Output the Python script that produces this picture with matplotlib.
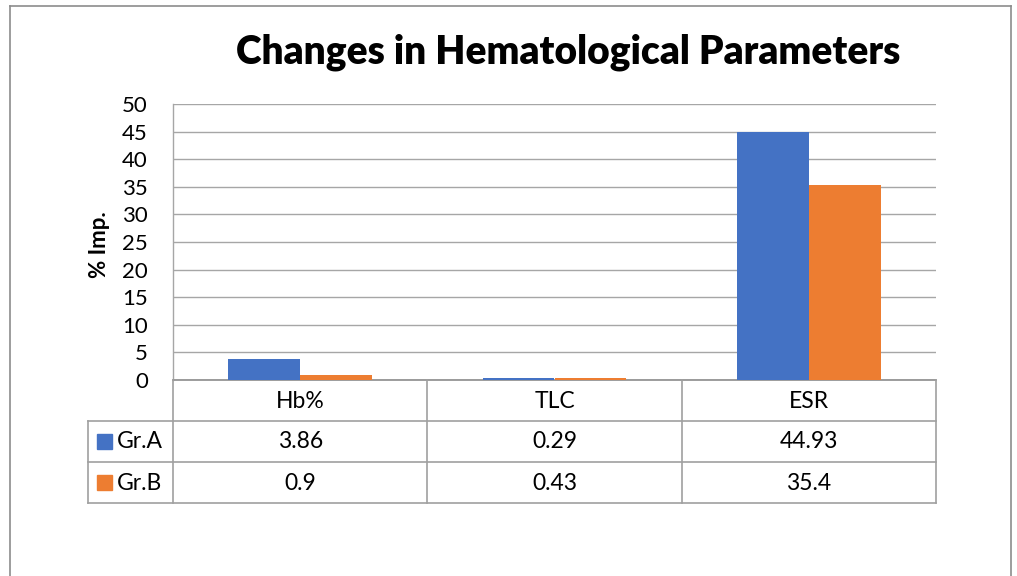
import matplotlib
matplotlib.use("Agg")
import matplotlib.pyplot as plt
from matplotlib.lines import Line2D
from matplotlib.patches import Rectangle

categories = ["Hb%", "TLC", "ESR"]
series_names = ["Gr.A", "Gr.B"]
gr_a = [3.86, 0.29, 44.93]
gr_b = [0.9, 0.43, 35.4]
labels_a = ["3.86", "0.29", "44.93"]
labels_b = ["0.9", "0.43", "35.4"]
yticks = [0, 5, 10, 15, 20, 25, 30, 35, 40, 45, 50]

colors = ["#4472C4", "#ED7D31"]
FONT = ["Lato", "DejaVu Sans"]
plt.rcParams["font.family"] = FONT

W, H = 1017, 576
fig = plt.figure(figsize=(W / 100, H / 100), dpi=100)

def fx(x):
    return x / W

def fy(y):
    return 1 - y / H

# outer chart frame
frame_col = "#8c8c8c"
for (x0, y0, x1, y1) in [(10, 6, 1011, 6), (10, 6, 10, 576), (1011, 6, 1011, 576)]:
    fig.add_artist(Line2D([fx(x0), fx(x1)], [fy(y0), fy(y1)], color=frame_col, lw=1.2))

L, R, T, B = 173, 936, 104, 380
ax = fig.add_axes([fx(L), fy(B), fx(R - L), (B - T) / H])

n = len(categories)
xs = list(range(n))
w = 72 / 255
ax.bar([x - w / 2 for x in xs], gr_a, width=w, color=colors[0], zorder=3)
ax.bar([x + w / 2 for x in xs], gr_b, width=w, color=colors[1], zorder=3)

ax.set_xlim(-0.5, n - 0.5)
ax.set_ylim(0, 50)
ax.set_yticks(yticks)
ax.set_yticklabels([str(t) for t in yticks], fontsize=16)
ax.tick_params(axis="y", length=0, pad=18)
ax.set_xticks([])
ax.grid(axis="y", color="#a6a6a6", lw=1.0, zorder=0)
for s in ["top", "right"]:
    ax.spines[s].set_visible(False)
ax.spines["left"].set_color("#a6a6a6")
ax.spines["bottom"].set_color("#8c8c8c")
ax.spines["bottom"].set_linewidth(1.2)
ax.spines["left"].set_linewidth(1.0)

fig.text(fx(100), fy(245), "% Imp.", rotation=90, ha="center", va="center",
         fontsize=16, fontweight="bold")
fig.text(fx(568), fy(52), "Changes in Hematological Parameters", ha="center",
         va="center", fontsize=28, fontweight="heavy")

# data table
tcol = "#a0a0a0"
rows_y = [380, 421, 462, 503]
col_x = [L + (R - L) * i / n for i in range(n + 1)]
for y in rows_y[1:]:
    fig.add_artist(Line2D([fx(88), fx(R)], [fy(y), fy(y)], color=tcol, lw=1.2))
fig.add_artist(Line2D([fx(88), fx(88)], [fy(421), fy(503)], color=tcol, lw=1.2))
for x in col_x:
    fig.add_artist(Line2D([fx(x), fx(x)], [fy(380), fy(503)], color=tcol, lw=1.2))

TFS = 16.5
for i, cat in enumerate(categories):
    cx = (col_x[i] + col_x[i + 1]) / 2
    fig.text(fx(cx), fy(401), cat, ha="center", va="center", fontsize=TFS)
    fig.text(fx(cx), fy(442), labels_a[i], ha="center", va="center", fontsize=TFS)
    fig.text(fx(cx), fy(483), labels_b[i], ha="center", va="center", fontsize=TFS)

for j, (name, c) in enumerate(zip(series_names, colors)):
    yc = 442 + 41 * j
    fig.add_artist(Rectangle((fx(97), fy(yc + 7)), fx(15), 15 / H, color=c))
    fig.text(fx(117), fy(yc), name, ha="left", va="center", fontsize=TFS)

fig.savefig("out.png", dpi=100)
